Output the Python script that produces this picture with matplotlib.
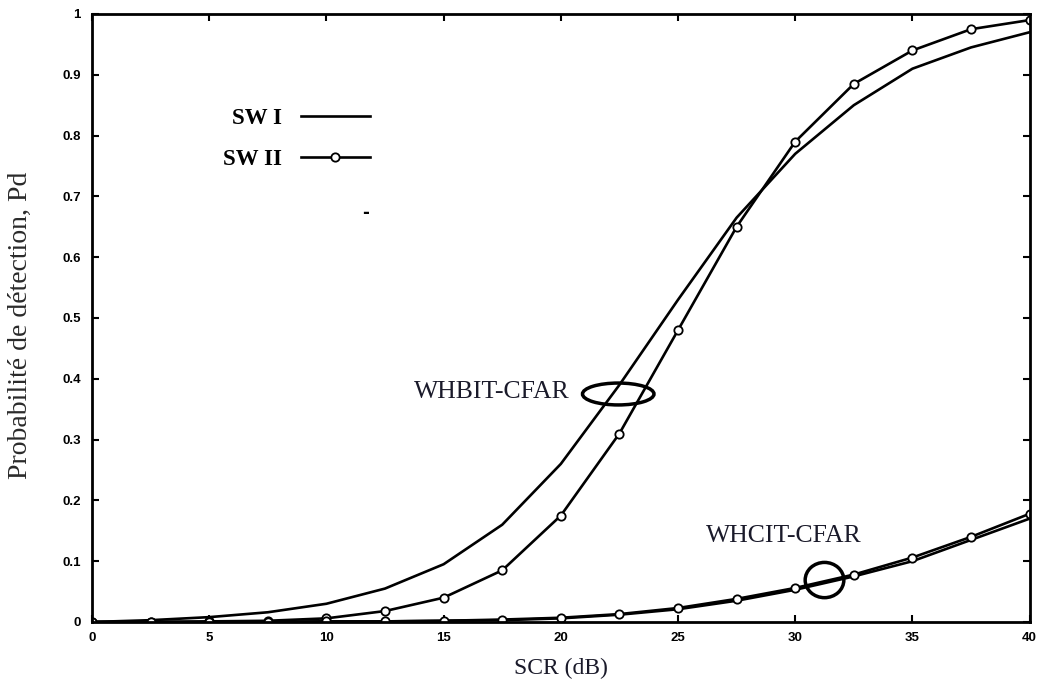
import numpy as np
import matplotlib
matplotlib.use('Agg')
import matplotlib.pyplot as plt
from matplotlib.patches import Ellipse

# SCR grid (dB) and detection probabilities
scr = [0, 2.5, 5, 7.5, 10, 12.5, 15, 17.5, 20, 22.5, 25, 27.5, 30, 32.5, 35, 37.5, 40]

whbit_sw1 = [0.0, 0.003, 0.008, 0.016, 0.03, 0.055, 0.095, 0.16, 0.26, 0.39, 0.53,
             0.665, 0.77, 0.85, 0.91, 0.945, 0.97]
whbit_sw2 = [0.0, 0.0, 0.001, 0.002, 0.006, 0.018, 0.04, 0.085, 0.175, 0.31, 0.48,
             0.65, 0.79, 0.885, 0.94, 0.975, 0.99]
whcit_sw1 = [0.0, 0.0, 0.0, 0.0, 0.001, 0.001, 0.002, 0.003, 0.006, 0.012, 0.021,
             0.035, 0.053, 0.075, 0.1, 0.135, 0.17]
whcit_sw2 = [0.0, 0.0, 0.0, 0.0, 0.001, 0.001, 0.002, 0.004, 0.007, 0.013, 0.023,
             0.038, 0.056, 0.078, 0.106, 0.14, 0.178]

xticks = [0, 5, 10, 15, 20, 25, 30, 35, 40]
yticks = [0, 0.1, 0.2, 0.3, 0.4, 0.5, 0.6, 0.7, 0.8, 0.9, 1]
ytick_labels = ['0', '0.1', '0.2', '0.3', '0.4', '0.5', '0.6', '0.7', '0.8', '0.9', '1']

serif = ['Liberation Serif', 'DejaVu Serif']

fig = plt.figure(figsize=(10.4, 6.86), dpi=100)
ax = fig.add_axes([0.0885, 0.0933, 0.9015, 0.8863])

lw = 1.9
circ = dict(marker='o', markersize=6, markerfacecolor='white',
            markeredgecolor='black', markeredgewidth=1.3)

l1, = ax.plot(scr, whbit_sw1, color='black', lw=lw)
l2, = ax.plot(scr, whbit_sw2, color='black', lw=lw, **circ)
ax.plot(scr, whcit_sw1, color='black', lw=lw)
ax.plot(scr, whcit_sw2, color='black', lw=lw, **circ)

# group ellipses
ax.add_patch(Ellipse((22.45, 0.375), 3.05, 0.036, fill=False, lw=2.5, ec='black'))
ax.add_patch(Ellipse((31.25, 0.069), 1.65, 0.058, fill=False, lw=2.5, ec='black'))

ax.text(20.4, 0.378, 'WHBIT-CFAR', family=serif, fontsize=18.5,
        ha='right', va='center', color='#1a1a2a')
ax.text(26.2, 0.142, 'WHCIT-CFAR', family=serif, fontsize=18.5,
        ha='left', va='center', color='#1a1a2a')
ax.text(0.292, 0.672, '-', transform=ax.transAxes, fontsize=12,
        fontweight='bold', ha='center', va='center')

leg = fig.legend([l1, l2], ['SW I', 'SW II'], loc='upper left',
                 bbox_to_anchor=(0.195, 0.872), frameon=False, markerfirst=False,
                 numpoints=1, handlelength=3.0, labelspacing=0.85,
                 prop={'family': serif, 'weight': 'bold', 'size': 16.5})

ax.set_xlim(0, 40)
ax.set_ylim(0, 1)
ax.set_xticks(xticks)
ax.set_yticks(yticks)
ax.set_yticklabels(ytick_labels)
ax.tick_params(direction='in', top=True, right=True, length=5, width=1.5,
               labelsize=9.5, pad=7)
ax.tick_params(axis='y', pad=8)
for lab in ax.get_xticklabels() + ax.get_yticklabels():
    lab.set_fontweight('bold')
    lab.set_family('Liberation Sans')
for sp in ax.spines.values():
    sp.set_linewidth(2)

ax.set_xlabel('SCR (dB)', family=serif, fontsize=17, color='#1a1a2a', labelpad=10)
ax.set_ylabel('Probabilité de détection, Pd', family=serif, fontsize=20,
              color='#2a2a2a')
ax.yaxis.set_label_coords(-0.063, 0.488)

fig.savefig('out.png', dpi=100)
